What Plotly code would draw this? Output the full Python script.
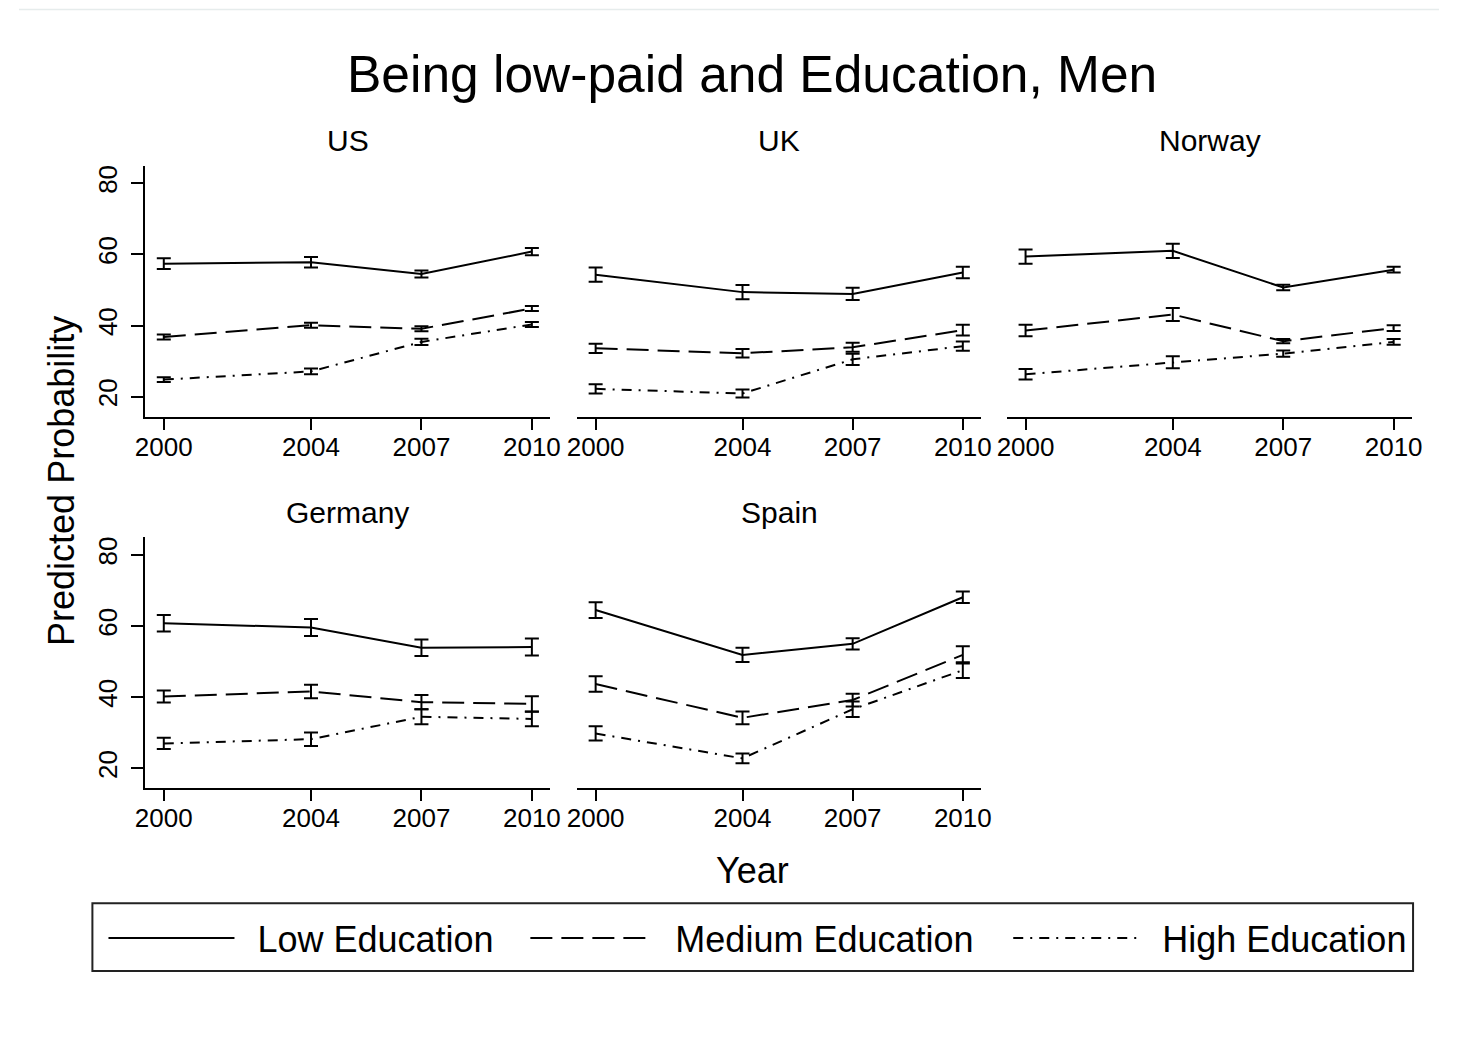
import plotly.graph_objects as go

# figure placed by the page at (8, 8); layout coordinates below are given in
# reference-picture pixels and mapped to the figure frame
OX, OY = 8, 8
W, H = 1442, 1041
SX, AX = 0.985, 10.7  # horizontal mapping of the rendered page into the picture

years = [2000, 2004, 2007, 2010]
year_ticks = ["2000", "2004", "2007", "2010"]
y_ticks = [20, 40, 60, 80]

countries = ["US", "UK", "Norway", "Germany", "Spain"]
series_names = ["Low Education", "Medium Education", "High Education"]

us_low = [57.4, 57.8, 54.5, 60.8]
us_low_err = [1.5, 1.5, 1.0, 1.0]
us_med = [36.8, 40.1, 39.1, 44.8]
us_med_err = [0.7, 0.7, 0.7, 0.7]
us_high = [24.8, 27.1, 35.4, 40.3]
us_high_err = [0.7, 0.8, 0.9, 0.7]

uk_low = [54.3, 49.4, 48.9, 54.9]
uk_low_err = [2.0, 2.0, 1.7, 1.6]
uk_med = [33.6, 32.2, 33.9, 38.7]
uk_med_err = [1.3, 1.2, 1.3, 1.5]
uk_high = [22.2, 20.9, 30.5, 34.2]
uk_high_err = [1.3, 1.1, 1.6, 1.3]

no_low = [59.4, 61.0, 50.7, 55.7]
no_low_err = [2.0, 2.0, 0.8, 0.8]
no_med = [38.6, 43.1, 35.6, 39.3]
no_med_err = [1.6, 1.8, 0.6, 0.8]
no_high = [26.3, 29.7, 32.1, 35.4]
no_high_err = [1.5, 1.7, 0.9, 0.8]

de_low = [60.8, 59.6, 53.9, 54.1]
de_low_err = [2.3, 2.4, 2.3, 2.4]
de_med = [40.2, 41.6, 38.6, 38.1]
de_med_err = [1.7, 1.9, 2.0, 2.2]
de_high = [27.0, 28.2, 34.5, 33.9]
de_high_err = [1.6, 1.9, 2.1, 2.1]

es_low = [64.5, 51.9, 55.0, 68.1]
es_low_err = [2.2, 2.0, 1.6, 1.6]
es_med = [43.7, 34.2, 39.2, 51.9]
es_med_err = [2.2, 1.8, 1.8, 2.4]
es_high = [29.8, 22.8, 36.6, 47.6]
es_high_err = [2.0, 1.4, 2.2, 2.2]

panel_data = {
    "US": [(us_low, us_low_err), (us_med, us_med_err), (us_high, us_high_err)],
    "UK": [(uk_low, uk_low_err), (uk_med, uk_med_err), (uk_high, uk_high_err)],
    "Norway": [(no_low, no_low_err), (no_med, no_med_err), (no_high, no_high_err)],
    "Germany": [(de_low, de_low_err), (de_med, de_med_err), (de_high, de_high_err)],
    "Spain": [(es_low, es_low_err), (es_med, es_med_err), (es_high, es_high_err)],
}

FONT = "Liberation Sans, Arial, Helvetica, sans-serif"
dashes = ["solid", "22px,9px", "10px,7px,2px,7px"]
legend_ids = ["legend", "legend2", "legend3"]

# reference-pixel layout of panels
col_x = [(145, 550), (577, 981), (1007, 1412)]
row_y = [(165, 416), (537, 788)]
panel_pos = {
    "US": (0, 0), "UK": (0, 1), "Norway": (0, 2),
    "Germany": (1, 0), "Spain": (1, 1),
}

def page_x(p):
    return (p - AX) / SX

def px_x(p):
    return (page_x(p) - OX) / W

def px_y(p):
    return 1 - (p - OY) / H

fig = go.Figure()
layout_axes = {}
annotations = []

for i, c in enumerate(countries):
    r, col = panel_pos[c]
    n = i + 1
    xa = "x" if n == 1 else f"x{n}"
    ya = "y" if n == 1 else f"y{n}"
    xkey = "xaxis" if n == 1 else f"xaxis{n}"
    ykey = "yaxis" if n == 1 else f"yaxis{n}"
    x0, x1 = col_x[col]
    t, b = row_y[r]
    for s, (vals, errs) in enumerate(panel_data[c]):
        fig.add_trace(go.Scatter(
            x=years, y=vals, mode="lines",
            name="\u2002" + series_names[s],
            line=dict(color="black", width=2, dash=dashes[s]),
            error_y=dict(type="data", array=errs, visible=True,
                         color="black", thickness=2, width=7),
            xaxis=xa, yaxis=ya,
            showlegend=(i == 0),
            legend=legend_ids[s],
            legendgroup=series_names[s],
        ))
    layout_axes[xkey] = dict(
        domain=[px_x(x0), px_x(x1)], anchor=ya, range=[1999.5, 2010.5],
        tickmode="array", tickvals=years, ticktext=year_ticks,
        showline=True, linecolor="black", linewidth=2,
        ticks="outside", ticklen=11, tickwidth=2, tickcolor="black",
        showgrid=False, zeroline=False,
        tickfont=dict(family=FONT, size=26, color="black"),
        ticklabelstandoff=-5,
    )
    left = (col == 0)
    layout_axes[ykey] = dict(
        domain=[px_y(b), px_y(t)], anchor=xa, range=[14.4, 84.9],
        tickmode="array", tickvals=y_ticks,
        showline=left, linecolor="black", linewidth=2,
        ticks="outside" if left else "", ticklen=12, tickwidth=2, tickcolor="black",
        showticklabels=left, tickangle=-90,
        showgrid=False, zeroline=False,
        tickfont=dict(family=FONT, size=26, color="black"),
        ticklabelstandoff=4,
    )
    annotations.append(dict(
        text=c, x=px_x((x0 + x1) / 2), y=px_y(t - 25), xref="paper", yref="paper",
        xanchor="center", yanchor="middle", showarrow=False,
        font=dict(family=FONT, size=30, color="black"),
    ))

annotations += [
    dict(text="Being low-paid and Education, Men", x=px_x(752), y=px_y(73),
         xref="paper", yref="paper", xanchor="center", yanchor="middle",
         showarrow=False, font=dict(family=FONT, size=51.5, color="black")),
    dict(text="Year", x=px_x(752), y=px_y(870),
         xref="paper", yref="paper", xanchor="center", yanchor="middle",
         showarrow=False, font=dict(family=FONT, size=36, color="black")),
    dict(text="Predicted Probability", x=px_x(61), y=px_y(480), textangle=-90,
         xref="paper", yref="paper", xanchor="center", yanchor="middle",
         showarrow=False, font=dict(family=FONT, size=36, color="black")),
]

shapes = [
    dict(type="rect", xref="paper", yref="paper",
         x0=px_x(92), x1=px_x(1413), y0=px_y(971), y1=px_y(903),
         line=dict(color="#222222", width=2), fillcolor="rgba(0,0,0,0)"),
    dict(type="line", xref="paper", yref="paper",
         x0=0, x1=1, y0=1 - 0.5 / H, y1=1 - 0.5 / H,
         line=dict(color="#e6ecec", width=1.5)),
]

leg_common = dict(orientation="h", yanchor="middle", xanchor="left",
                  y=px_y(938), bgcolor="rgba(0,0,0,0)", borderwidth=0,
                  font=dict(family=FONT, size=36, color="black"))

def leg_x(line_start_ref):
    return (page_x(line_start_ref) - 5 - OX) / W

fig.update_layout(
    width=W, height=H,
    margin=dict(l=0, r=0, t=0, b=0),
    paper_bgcolor="white", plot_bgcolor="white",
    annotations=annotations, shapes=shapes,
    legend=dict(x=leg_x(108), itemwidth=126, **leg_common),
    legend2=dict(x=leg_x(530), itemwidth=122, **leg_common),
    legend3=dict(x=leg_x(1013), itemwidth=126, **leg_common),
    **layout_axes,
)

fig.write_html("out.html")
